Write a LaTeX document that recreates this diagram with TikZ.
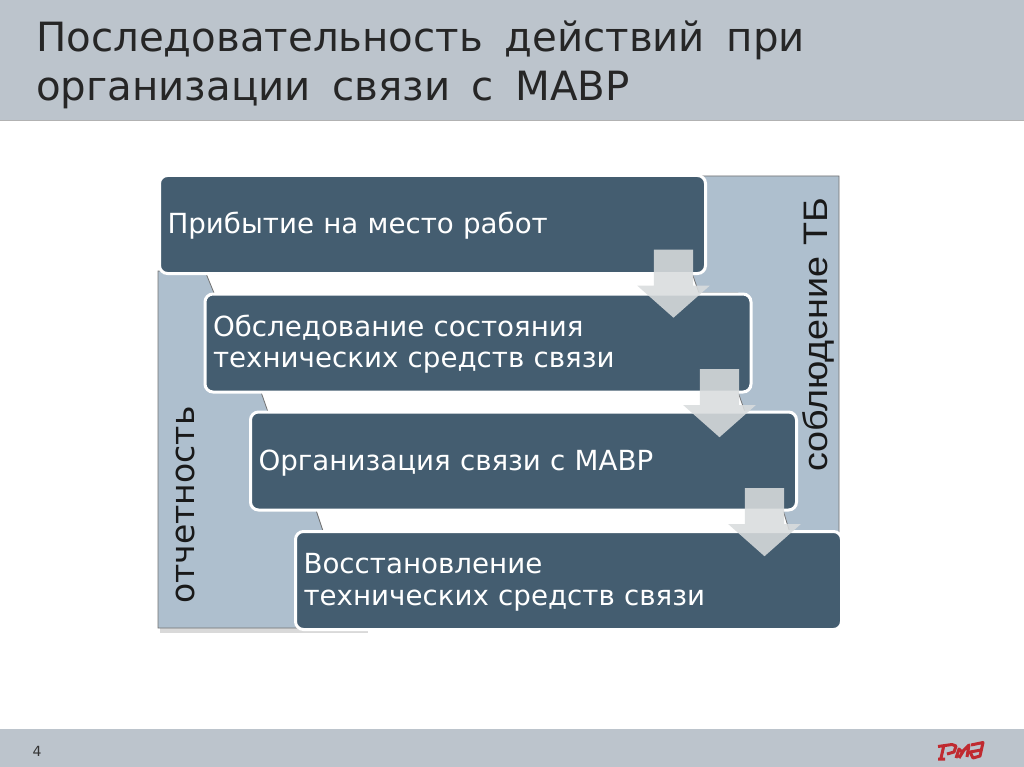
\documentclass[tikz,border=0pt]{standalone}
\usepackage{fontspec}
\setmainfont{DejaVu Sans}
\newfontfamily\labelfont[FakeStretch=1.11]{Liberation Sans}
\newcommand{\titlefont}{\fontsize{40.3}{49}\selectfont\spaceskip 21.6pt\relax}
\usetikzlibrary{positioning,shapes.arrows}
\definecolor{barblue}{HTML}{BCC4CC}
\definecolor{backblue}{HTML}{AEBFCE}
\definecolor{stepblue}{HTML}{445D70}
\definecolor{flowgray}{HTML}{D9DCDD}
\definecolor{logored}{HTML}{C02A30}
\begin{document}
\begin{tikzpicture}[
  x=1pt, y=-1pt,
  bar/.style={fill=barblue, draw=none},
  back/.style={fill=backblue, draw=black!55, line width=0.8pt, line join=miter},
  stepnode/.style={rectangle, rounded corners=8pt, draw=white, line width=3pt, fill=stepblue, text=white, minimum width=546pt, minimum height=98pt, text width=530pt, text height=24pt, inner sep=0pt, align=left, font=\fontsize{27.7}{31.5}\selectfont},
  flow/.style={single arrow, rotate=-90, fill=flowgray, fill opacity=0.88, draw=none, inner xsep=0pt, inner ysep=19.5pt, outer sep=0pt, minimum height=68pt, single arrow head extend=16.5pt, single arrow tip angle=97, single arrow head indent=0pt, anchor=center}
]
\useasboundingbox (0,0) rectangle (1024,767);
\fill[white] (0,0) rectangle (1024,767);
% Title and footer
\fill[bar] (0,0) rectangle (1024,120);
\draw[black!30, line width=1.2pt] (0,120.5) -- (1024,120.5);
\fill[bar] (0,729) rectangle (1024,767);
\node[anchor=north west, inner sep=0pt, align=left, text=black!85, font=\titlefont] (title) at (36,21) {Последовательность действий при\\организации связи с МАВР};
\node[inner sep=0pt, text=black!80, font=\fontsize{14}{16}\selectfont] (page) at (37,751) {4};
% Back shapes
\fill[black!15] (160,628) rectangle (368,633);
\draw[back] (158,271) -- (205,271) -- (214,293) -- (214,392) -- (261,392) -- (268,412) -- (268,510) -- (316,510) -- (323,531) -- (323,628) -- (158,628) -- cycle;
\draw[back] (692,176) -- (839,176) -- (839,533) -- (790,533) -- (783,510) -- (783,412) -- (745,412) -- (738,392) -- (738,293) -- (699,293) -- (692,273) -- cycle;
% Steps
\node[stepnode] (arrival) at (432.5,224.5) {Прибытие на место работ};
\node[stepnode] (survey) at (478,343) {Обследование состояния\\технических средств связи};
\node[stepnode] (setup) at (523.5,461) {Организация связи с МАВР};
\node[stepnode] (repair) at (568.5,580.5) {Восстановление\\технических средств связи};
% Block arrows
\node[flow] (flowa) at (673.5,275) {};
\node[flow] (flowb) at (719.5,394.5) {};
\node[flow] (flowc) at (764.5,513.5) {};
% Side labels
\node[rotate=90, inner sep=0pt, text=black!90, font=\fontsize{33}{35}\selectfont] (report) at (185,505) {отчетность};
\node[rotate=90, inner sep=0pt, text=black!90, font=\labelfont\fontsize{34}{36}\selectfont] (safety) at (818,335) {соблюдение ТБ};
% Logo
\draw[logored, line width=3pt, line join=round] (938,746.5) -- (952,744.5) -- (956,746) -- (954,752) -- (947,754) (944,745) -- (941,758) (938,759) -- (945,759);
\draw[logored, line width=3pt, line join=round] (956,758) -- (959,749) -- (962,752) -- (969,745) -- (967,757) (959,758) -- (964,750);
\draw[logored, line width=3pt, line join=round] (971,745) -- (983,742.5) -- (980,756) -- (973,758) -- (970,752) -- (981,750);
\end{tikzpicture}
\end{document}
